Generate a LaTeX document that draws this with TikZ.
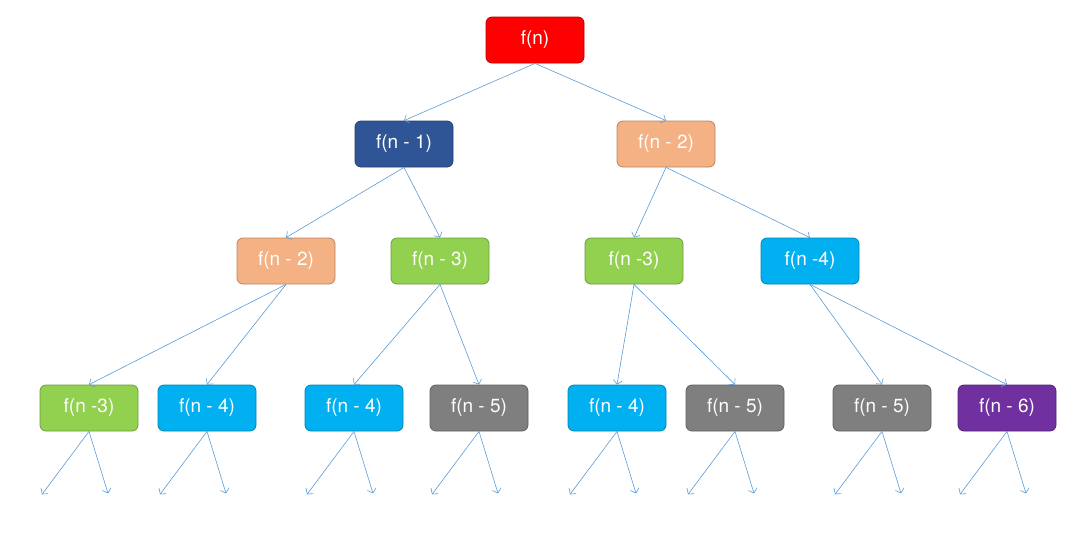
\documentclass[tikz,border=0pt]{standalone}
\usepackage{fontspec}
\setmainfont{TeX Gyre Heros}
\usetikzlibrary{arrows.meta}

\definecolor{fred}{HTML}{FF0000}
\definecolor{fnavy}{HTML}{2F5597}
\definecolor{fpeach}{HTML}{F4B183}
\definecolor{fgreen}{HTML}{92D050}
\definecolor{fcyan}{HTML}{00B0F0}
\definecolor{fgray}{HTML}{7F7F7F}
\definecolor{fpurple}{HTML}{7030A0}
\definecolor{arrblue}{HTML}{5B9BD5}

\begin{document}
\begin{tikzpicture}[x=1pt, y=-1pt,
  box/.style={draw=#1!75!black, fill=#1, rounded corners=6pt, minimum height=46pt, minimum width=98pt,
    align=center, text=white, inner sep=0pt, line width=0.8pt, font=\fontsize{19}{23}\selectfont},
  arr/.style={-{Straight Barb[length=4pt,width=9pt]}, draw=arrblue, line width=0.6pt}
]
\useasboundingbox (0,0) rectangle (1080,550);

\node[box=fred] (f0) at (535,40) {f(n)};

\node[box=fnavy] (f1) at (404,144) {f(n - 1)};
\node[box=fpeach] (f2) at (666,144) {f(n - 2)};

\node[box=fpeach] (f12) at (286,261) {f(n - 2)};
\node[box=fgreen] (f13) at (440,261) {f(n - 3)};
\node[box=fgreen] (f23) at (634,261) {f(n -3)};
\node[box=fcyan] (f24) at (810,261) {f(n -4)};

\node[box=fgreen] (l1) at (89,408) {f(n -3)};
\node[box=fcyan] (l2) at (207,408) {f(n - 4)};
\node[box=fcyan] (l3) at (354,408) {f(n - 4)};
\node[box=fgray] (l4) at (479,408) {f(n - 5)};
\node[box=fcyan] (l5) at (617,408) {f(n - 4)};
\node[box=fgray] (l6) at (735,408) {f(n - 5)};
\node[box=fgray] (l7) at (882,408) {f(n - 5)};
\node[box=fpurple] (l8) at (1007,408) {f(n - 6)};

\draw[arr] (f0.south) -- (f1.north);
\draw[arr] (f0.south) -- (f2.north);
\draw[arr] (f1.south) -- (f12.north);
\draw[arr] (f1.south) -- (f13.north);
\draw[arr] (f2.south) -- (f23.north);
\draw[arr] (f2.south) -- (f24.north);
\draw[arr] (f12.south) -- (l1.north);
\draw[arr] (f12.south) -- (l2.north);
\draw[arr] (f13.south) -- (l3.north);
\draw[arr] (f13.south) -- (l4.north);
\draw[arr] (f23.south) -- (l5.north);
\draw[arr] (f23.south) -- (l6.north);
\draw[arr] (f24.south) -- (l7.north);
\draw[arr] (f24.south) -- (l8.north);

% open ends below the last row
\foreach \n in {l1,l2,l3,l4,l5,l6,l7,l8} {
  \path (\n.south) ++(-47,63) coordinate (\n-a);
  \path (\n.south) ++(19,62) coordinate (\n-b);
  \draw[arr] (\n.south) -- (\n-a);
  \draw[arr] (\n.south) -- (\n-b);
}
\end{tikzpicture}
\end{document}
